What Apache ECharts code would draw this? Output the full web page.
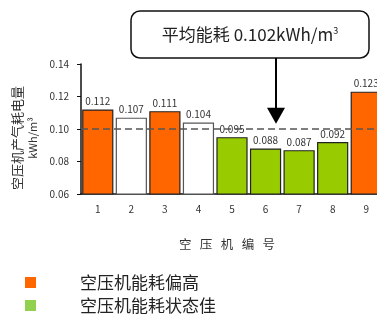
<!DOCTYPE html>
<html>
<head>
<meta charset="utf-8">
<script src="https://cdn.jsdelivr.net/npm/echarts@6/dist/echarts.min.js"></script>
<style>
  html, body { margin: 0; padding: 0; background: #fff; overflow: hidden; }
  #chart { width: 383px; height: 320px; }
</style>
</head>
<body>
<div id="chart"></div>
<script>
// Compressor numbers and specific energy use (kWh/m³)
const compressors = ['1', '2', '3', '4', '5', '6', '7', '8', '9'];
const energyUse = [0.112, 0.107, 0.111, 0.104, 0.095, 0.088, 0.087, 0.092, 0.123];
// 'high' = above-average use, 'ok' = near average, 'good' = efficient
const status = ['high', 'ok', 'high', 'ok', 'good', 'good', 'good', 'good', 'high'];
const averageUse = 0.102;
const yTicks = [0.06, 0.08, 0.10, 0.12, 0.14];

const FONT = '"Noto Sans CJK SC", "Noto Sans", sans-serif';

const groups = [
  { key: 'high', name: '空压机能耗偏高', color: '#FF6600', border: '#222', legendColor: '#FF6600' },
  { key: 'ok', name: '能耗一般', color: '#FFFFFF', border: '#555', legendColor: '#FFFFFF' },
  { key: 'good', name: '空压机能耗状态佳', color: '#99CC00', border: '#222', legendColor: '#92D050' }
];

const series = groups.map((g, idx) => ({
  name: g.name,
  type: 'bar',
  barWidth: '93%',
  barGap: '-100%',
  data: energyUse.map((v, i) => (status[i] === g.key ? v : null)),
  itemStyle: { color: g.color, borderColor: g.border, borderWidth: 1.2 },
  label: {
    show: true,
    position: 'top',
    distance: 3,
    fontSize: 10,
    color: '#333',
    fontFamily: FONT,
    formatter: p => p.value.toFixed(3)
  },
  markLine: idx === 0 ? {
    silent: true,
    symbol: 'none',
    label: { show: false },
    lineStyle: { type: [7, 4], color: '#555', width: 1.5 },
    data: [{ yAxis: averageUse }]
  } : undefined
}));

const chart = echarts.init(document.getElementById('chart'));
chart.setOption({
  animation: false,
  grid: { left: 81, top: 64, bottom: 126, right: 0 },
  legend: {
    orient: 'vertical',
    left: 25,
    top: 274,
    height: 80,
    padding: 0,
    itemWidth: 11,
    itemHeight: 11,
    itemGap: 6,
    icon: 'rect',
    textStyle: { fontSize: 17, color: '#222', fontFamily: FONT, padding: [0, 0, 0, 39] },
    data: groups.filter(g => g.key !== 'ok').map(g => ({
      name: g.name,
      itemStyle: { color: g.legendColor, borderWidth: 0 }
    }))
  },
  xAxis: {
    type: 'category',
    data: compressors,
    name: '空   压   机   编   号',
    nameLocation: 'middle',
    nameGap: 44,
    nameTextStyle: { fontSize: 12.5, color: '#333', fontFamily: FONT, padding: [0, 10, 0, 0] },
    axisLine: { lineStyle: { color: '#111', width: 1.5 } },
    axisTick: { show: false },
    axisLabel: { fontSize: 10, color: '#333', margin: 10, fontFamily: FONT }
  },
  yAxis: {
    type: 'value',
    min: yTicks[0],
    max: yTicks[yTicks.length - 1],
    interval: 0.02,
    name: '{a|空压机产气耗电量}\n{b|kWh/m³}',
    nameLocation: 'middle',
    nameRotate: 90,
    nameGap: 36,
    nameTextStyle: {
      padding: [0, 18, 0, 0],
      rich: {
        a: { fontSize: 13, color: '#333', fontFamily: FONT, lineHeight: 17 },
        b: { fontSize: 11, color: '#333', fontFamily: FONT, lineHeight: 15 }
      }
    },
    splitLine: { show: false },
    axisLine: { show: true, lineStyle: { color: '#111', width: 1.5 } },
    axisTick: { show: true, length: 4, lineStyle: { color: '#111' } },
    axisLabel: { fontSize: 10, color: '#333', margin: 12, fontFamily: FONT, formatter: v => v.toFixed(2) }
  },
  series: series
});

// Callout box with an arrow pointing at the average line
const tipY = chart.convertToPixel({ yAxisIndex: 0 }, averageUse);
const arrowX = 276;
const boxBottom = 58;
chart.setOption({
  graphic: [
    {
      type: 'rect',
      shape: { x: 131, y: 11, width: 238, height: boxBottom - 11, r: 9 },
      style: { fill: '#fff', stroke: '#111', lineWidth: 1.5 }
    },
    {
      type: 'text',
      x: 250, y: 35,
      style: {
        text: '{a|平均能耗 0.102kWh/m}{s|3}',
        align: 'center',
        verticalAlign: 'middle',
        rich: {
          a: { fontSize: 17, fill: '#222', fontFamily: FONT },
          s: { fontSize: 9, fill: '#222', fontFamily: FONT, verticalAlign: 'top', padding: [0, 0, 8, 0] }
        }
      }
    },
    {
      type: 'line',
      shape: { x1: arrowX, y1: boxBottom, x2: arrowX, y2: tipY - 16 },
      style: { stroke: '#000', lineWidth: 2 }
    },
    {
      type: 'polygon',
      shape: { points: [[arrowX - 9, tipY - 18], [arrowX + 9, tipY - 18], [arrowX, tipY - 2]] },
      style: { fill: '#000' }
    }
  ]
});
</script>
</body>
</html>
